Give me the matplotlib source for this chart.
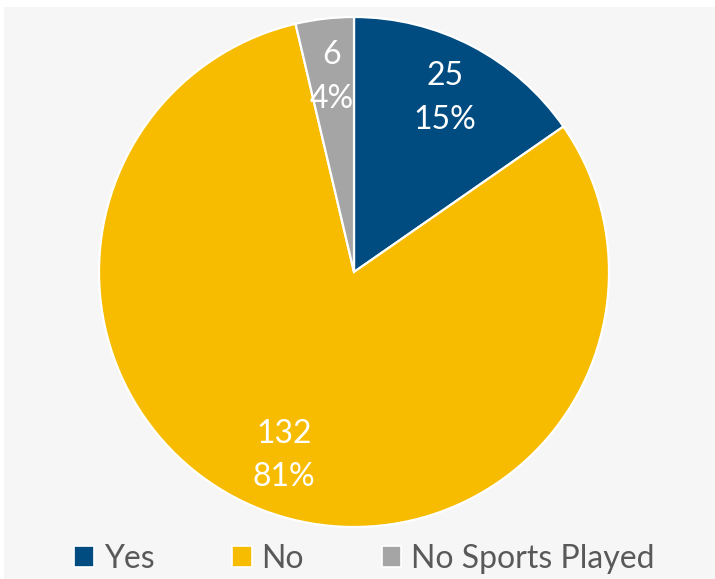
import matplotlib.pyplot as plt
from matplotlib.patches import Rectangle, Patch

# Survey responses
categories = ['Yes', 'No', 'No Sports Played']
counts = [25, 132, 6]
colors = ['#004C80', '#F7BC00', '#A5A5A5']

total = sum(counts)

fig = plt.figure(figsize=(7.15, 5.79), dpi=100)
fig.patch.set_facecolor('white')
# light grey chart area
fig.patches.append(Rectangle((4 / 715, 0), 1, 1 - 7 / 579, transform=fig.transFigure,
                             facecolor='#F6F6F6', edgecolor='none', zorder=-1))

ax = fig.add_axes([99 / 715, 52 / 579, 510 / 715, 510 / 579])
ax.set_zorder(1)
ax.set_facecolor('none')

wedges, texts = ax.pie(
    counts,
    colors=colors,
    startangle=90,
    counterclock=False,
    radius=1,
    labels=['{}\n{:.0f}%'.format(c, 100 * c / total) for c in counts],
    labeldistance=0.77,
    wedgeprops=dict(edgecolor='white', linewidth=1.6),
    textprops=dict(color='white', fontsize=23, family='Lato', linespacing=1.55),
)
for t in texts:
    t.set_horizontalalignment('center')
    t.set_verticalalignment('center')

ax.set_xlim(-1, 1)
ax.set_ylim(-1, 1)
ax.set_aspect('equal')
ax.axis('off')

handles = [Patch(facecolor=c, edgecolor='white', linewidth=1.2) for c in colors]
leg = fig.legend(handles, categories, loc='center', bbox_to_anchor=(0.51, 0.035),
                 ncol=3, frameon=False, handlelength=0.6, handleheight=0.6,
                 handletextpad=0.31, columnspacing=2.45,
                 prop=dict(family='Lato', size=23))
leg.set_zorder(2)
for t in leg.get_texts():
    t.set_color('#595959')

fig.savefig('out.png', dpi=100, facecolor=fig.get_facecolor())
